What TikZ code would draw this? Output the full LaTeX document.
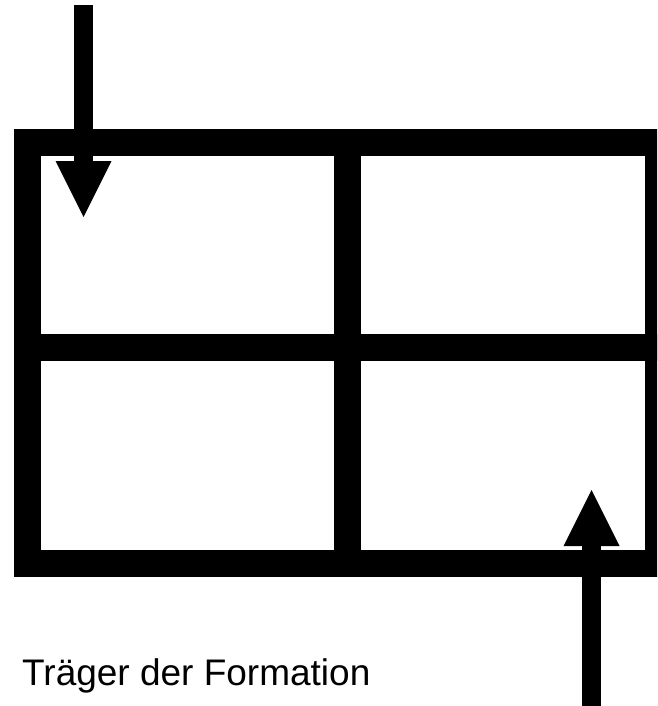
\documentclass[tikz,border=0pt]{standalone}
\usepackage{fontspec}
\setmainfont{Liberation Sans}
\usetikzlibrary{arrows.meta}
\tikzset{
  frame/.style={line width=27pt, black},
  pusharrow/.style={line width=19pt, black, -{Triangle[length=56pt, width=56pt, line width=0pt 0]}}
}

\begin{document}
\begin{tikzpicture}[x=1pt, y=-1pt]
    \useasboundingbox (0,0) rectangle (657,706);
    \clip (0,0) rectangle (657,706);

    % Rahmen und Gitter
    \coordinate (nw) at (27,142.5);
    \coordinate (se) at (658,563);
    \draw[frame] (nw) rectangle (se);
    \draw[frame] (27,347) -- (658,347);
    \draw[frame] (347.5,142.5) -- (347.5,563);

    % Pfeile
    \coordinate (intop) at (83.5,5);
    \coordinate (intip) at (83.5,217);
    \draw[pusharrow] (intop) -- (intip);
    \coordinate (outbot) at (591.5,720);
    \coordinate (outtip) at (591.5,490);
    \draw[pusharrow] (outbot) -- (outtip);

    % Beschriftung
    \node[anchor=base west, inner sep=0pt, font=\fontsize{37}{44}\selectfont] (label) at (22,685) {Träger der Formation};
\end{tikzpicture}
\end{document}
